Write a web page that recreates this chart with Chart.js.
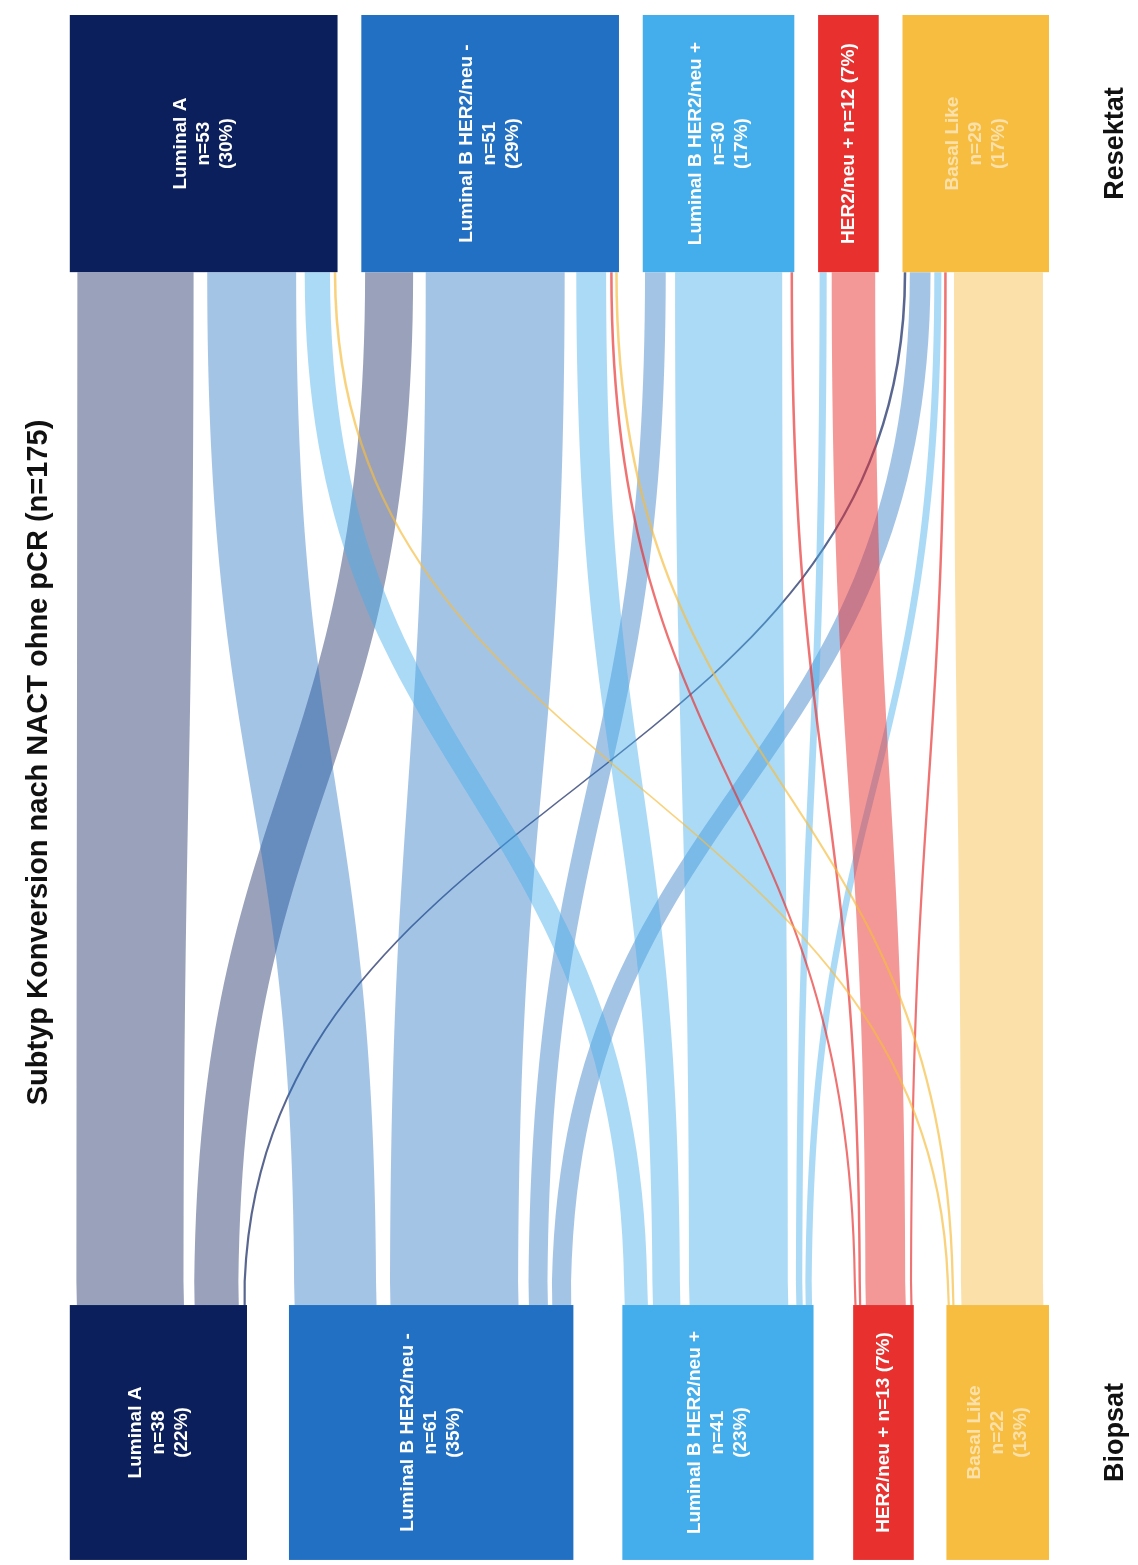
<!DOCTYPE html>
<html><head><meta charset="utf-8">
<script src="https://cdn.jsdelivr.net/npm/chart.js@4.4.1/dist/chart.umd.min.js"></script>
<style>html,body{margin:0;padding:0;background:#fff;} #wrap{width:1138px;height:1565px;position:relative;}</style>
</head><body><div id="wrap"><canvas id="c"></canvas></div>
<script>
// ---------- data ----------
const stages = ['Biopsat', 'Resektat'];
const subtypes = ['Luminal A', 'Luminal B HER2/neu -', 'Luminal B HER2/neu +', 'HER2/neu +', 'Basal Like'];
const biopsatCounts = [38, 61, 41, 13, 22];
const resektatCounts = [53, 51, 30, 12, 29];
const biopsatPercent = [22, 35, 23, 7, 13];
const resektatPercent = [30, 29, 17, 7, 17];
// flows: Biopsat subtype -> Resektat subtypes (in subtype order)
const fromLuminalA   = [26, 11, 0, 0, 1];
const fromLuminalBNeg = [20, 31, 5, 0, 5];
const fromLuminalBPos = [6, 7, 24, 2, 2];
const fromHER2       = [0, 1, 1, 10, 1];
const fromBasal      = [1, 1, 0, 0, 20];
const titleText = 'Subtyp Konversion nach NACT ohne pCR (n=175)';

// ---------- styles / layout ----------
const subtypeColors = ['#0b1f5c', '#2270c3', '#44adec', '#e8302f', '#f6bd41'];
const linkAlpha = [0.42, 0.41, 0.45, 0.5, 0.45];
const labelColors = ['#ffffff', '#ffffff', '#ffffff', '#ffffff', 'rgba(255,255,255,0.55)'];
const singleLineLabel = [false, false, false, true, false];
const FONT = '"Liberation Sans", Arial, sans-serif';
const X_MAX = 210;
const GAP_BIOPSAT = [9, 10.5, 8.5, 7];
const GAP_RESEKTAT = [5.1, 5.1, 5.1, 5.1];
const STAGE_Y = { Biopsat: [-3.34, 13.71], Resektat: [82.8, 100] };

const flows = [fromLuminalA, fromLuminalBNeg, fromLuminalBPos, fromHER2, fromBasal];

function rgba(hex, a) {
  const n = parseInt(hex.slice(1), 16);
  return `rgba(${(n >> 16) & 255},${(n >> 8) & 255},${n & 255},${a})`;
}
function layoutStage(counts, gaps) {
  const total = counts.reduce((a, b) => a + b, 0);
  const k = (X_MAX - gaps.reduce((a, b) => a + b, 0)) / total;
  let pos = 0; const out = [];
  counts.forEach((c, i) => { out.push({ x0: pos, x1: pos + c * k, k }); pos += c * k + (gaps[i] || 0); });
  return out;
}
function labelLines(i, counts, pct) {
  if (singleLineLabel[i]) return [`${subtypes[i]} n=${counts[i]} (${pct[i]}%)`];
  return [subtypes[i], `n=${counts[i]}`, `(${pct[i]}%)`];
}

const sankeyPlugin = {
  id: 'sankey',
  afterDatasetsDraw(chart) {
    const { ctx, scales: { x, y }, chartArea } = chart;
    const bottomNodes = layoutStage(biopsatCounts, GAP_BIOPSAT);
    const topNodes = layoutStage(resektatCounts, GAP_RESEKTAT);
    const yb = y.getPixelForValue(STAGE_Y.Biopsat[1]);
    const yt = y.getPixelForValue(STAGE_Y.Resektat[0]);
    const ym = (yb + yt) / 2;

    // offsets within nodes
    const srcOff = bottomNodes.map(n => n.x0);
    const tgtOff = topNodes.map(n => n.x0);
    const links = [];
    flows.forEach((row, i) => row.forEach((v, j) => {
      if (!v) return;
      const s0 = srcOff[i], s1 = s0 + v * bottomNodes[i].k; srcOff[i] = s1;
      links.push({ i, j, v, s0, s1 });
    }));
    for (let j = 0; j < subtypes.length; j++) {
      links.filter(l => l.j === j).sort((a, b) => a.i - b.i).forEach(l => {
        l.t0 = tgtOff[j]; l.t1 = l.t0 + l.v * topNodes[j].k; tgtOff[j] = l.t1;
      });
    }
    function edges(a, b) {
      const pa = x.getPixelForValue(a), pb = x.getPixelForValue(b);
      const share = pb - pa; const w = Math.max(1.8, share * 0.9 - 2);
      const c = (pa + pb) / 2; return [c - w / 2, c + w / 2];
    }
    ctx.save();
    links.forEach(l => {
      const [bl, br] = edges(l.s0, l.s1);
      const [tl, tr] = edges(l.t0, l.t1);
      ctx.fillStyle = rgba(subtypeColors[l.i], l.v <= 1 ? 0.68 : linkAlpha[l.i]);
      ctx.beginPath();
      ctx.moveTo(bl, yb);
      ctx.bezierCurveTo(bl, ym, tl, ym, tl, yt);
      ctx.lineTo(tr, yt);
      ctx.bezierCurveTo(tr, ym, br, ym, br, yb);
      ctx.closePath();
      ctx.fill();
    });

    // nodes + labels
    const drawStage = (nodes, counts, pct, stage) => {
      const [v0, v1] = STAGE_Y[stage];
      const py0 = y.getPixelForValue(v1), py1 = y.getPixelForValue(v0);
      nodes.forEach((n, i) => {
        const px0 = x.getPixelForValue(n.x0), px1 = x.getPixelForValue(n.x1);
        ctx.fillStyle = subtypeColors[i];
        ctx.fillRect(px0, py0, px1 - px0, py1 - py0);
        const lines = labelLines(i, counts, pct);
        ctx.save();
        ctx.translate((px0 + px1) / 2, (py0 + py1) / 2);
        ctx.rotate(-Math.PI / 2);
        ctx.font = `bold 19px ${FONT}`;
        ctx.fillStyle = labelColors[i];
        ctx.textAlign = 'center'; ctx.textBaseline = 'middle';
        lines.forEach((t, k) => ctx.fillText(t, 0, (k - (lines.length - 1) / 2) * 23));
        ctx.restore();
      });
      // stage label on the right
      ctx.save();
      ctx.translate(chartArea.right + 67, (py0 + py1) / 2);
      ctx.rotate(-Math.PI / 2);
      ctx.font = `bold 27px ${FONT}`;
      ctx.fillStyle = '#111';
      ctx.textAlign = 'center'; ctx.textBaseline = 'middle';
      ctx.fillText(stage, 0, 0);
      ctx.restore();
    };
    drawStage(bottomNodes, biopsatCounts, biopsatPercent, stages[0]);
    drawStage(topNodes, resektatCounts, resektatPercent, stages[1]);
    ctx.restore();
  }
};

new Chart(document.getElementById('c'), {
  type: 'scatter',
  data: { datasets: [] },
  options: {
    responsive: true, maintainAspectRatio: false, animation: false, events: [],
    layout: { padding: { top: 15, right: 89, bottom: 55, left: 0 } },
    scales: {
      x: { type: 'linear', min: 0, max: X_MAX, display: false },
      y: { type: 'linear', min: 0, max: 100, display: false }
    },
    plugins: {
      legend: { display: false }, tooltip: { enabled: false },
      title: { display: true, text: titleText, position: 'left', color: '#111',
        font: { family: FONT, size: 29, weight: 'bold' }, padding: { top: 22, bottom: 13 } }
    }
  },
  plugins: [sankeyPlugin]
});
</script></body></html>
